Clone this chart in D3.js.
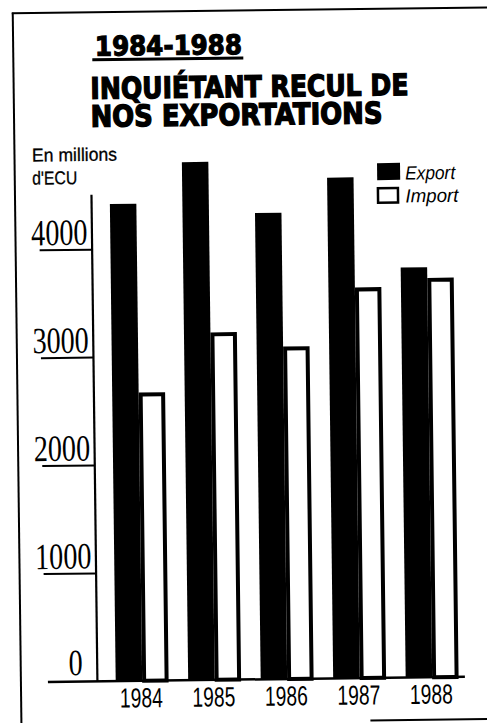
<!DOCTYPE html>
<html><head><meta charset="utf-8">
<script src="https://cdn.jsdelivr.net/npm/d3@7"></script>
<style>html,body{margin:0;padding:0;background:#fff;} svg{display:block;}</style>
</head><body>
<script>
const years = ["1984", "1985", "1986", "1987", "1988"];
const exportValues = [4420, 4800, 4320, 4640, 3800];
const importValues = [2670, 3220, 3080, 3620, 3700];
const yTicks = [0, 1000, 2000, 3000, 4000];
const seriesNames = ["Export", "Import"];
const titleLines = ["1984-1988", "INQUIÉTANT RECUL DE", "NOS EXPORTATIONS"];
const unitLines = ["En millions", "d'ECU"];

const W = 487, H = 723;
const svg = d3.select("body").append("svg").attr("width", W).attr("height", H);
svg.append("rect").attr("width", W).attr("height", H).attr("fill", "#fff");
const g = svg.append("g").attr("transform", "rotate(-0.7,243,360)");

const x = d3.scaleBand().domain(years).range([102, 464.5]).paddingInner(0.27).paddingOuter(0.135);
const xs = d3.scaleBand().domain(seriesNames).range([0, x.bandwidth()]);
const y = d3.scaleLinear().domain([0, 4000]).range([679.5, 247.8]);

const data = years.map((yr, i) => ({year: yr, Export: exportValues[i], Import: importValues[i]}));

// frame
g.append("line").attr("x1", 17).attr("x2", 17).attr("y1", 10).attr("y2", 740).attr("stroke", "#000").attr("stroke-width", 2);
g.append("line").attr("x1", 16).attr("x2", 500).attr("y1", 10.5).attr("y2", 10.5).attr("stroke", "#000").attr("stroke-width", 2);
g.append("line").attr("x1", 366).attr("x2", 500).attr("y1", 722).attr("y2", 722).attr("stroke", "#000").attr("stroke-width", 2);

// title
const titleFont = "'DejaVu Sans', Lato, sans-serif";
g.append("text").attr("x", 98.8).attr("y", 54).text(titleLines[0])
  .attr("font-family", titleFont).attr("font-weight", 700).attr("font-size", 27)
  .attr("stroke", "#000").attr("stroke-width", 1.2)
  .attr("textLength", 147).attr("lengthAdjust", "spacingAndGlyphs");
g.append("rect").attr("x", 96).attr("y", 56.5).attr("width", 151).attr("height", 3).attr("fill", "#000");
g.append("text").attr("x", 93.8).attr("y", 97).text(titleLines[1])
  .attr("font-family", titleFont).attr("font-weight", 700).attr("font-size", 29.5)
  .attr("stroke", "#000").attr("stroke-width", 1.4)
  .attr("textLength", 318).attr("lengthAdjust", "spacingAndGlyphs");
g.append("text").attr("x", 93.5).attr("y", 125).text(titleLines[2])
  .attr("font-family", titleFont).attr("font-weight", 700).attr("font-size", 29.5)
  .attr("stroke", "#000").attr("stroke-width", 1.4)
  .attr("textLength", 292).attr("lengthAdjust", "spacingAndGlyphs");

// unit
const unitFont = "'Liberation Sans', Arial, sans-serif";
g.append("text").attr("x", 34.5).attr("y", 159).text(unitLines[0])
  .attr("font-family", unitFont).attr("font-size", 18.5)
  .attr("stroke", "#000").attr("stroke-width", 0.3)
  .attr("textLength", 85).attr("lengthAdjust", "spacingAndGlyphs");
g.append("text").attr("x", 34.5).attr("y", 182).text(unitLines[1])
  .attr("font-family", unitFont).attr("font-size", 18.5)
  .attr("stroke", "#000").attr("stroke-width", 0.3)
  .attr("textLength", 45).attr("lengthAdjust", "spacingAndGlyphs");

// bars
const groups = g.selectAll(".grp").data(data).join("g").attr("class", "grp")
  .attr("transform", d => `translate(${x(d.year)},0)`);
groups.append("rect")
  .attr("x", xs("Export")).attr("width", xs.bandwidth())
  .attr("y", d => y(d.Export)).attr("height", d => y(0) - y(d.Export))
  .attr("fill", "#000");
groups.append("rect")
  .attr("x", xs("Import") + 2).attr("width", xs.bandwidth() - 4)
  .attr("y", d => y(d.Import) + 2).attr("height", d => y(0) - y(d.Import) - 2)
  .attr("fill", "#fff").attr("stroke", "#000").attr("stroke-width", 4);

// y axis
const axisX = 93.5;
g.append("line").attr("x1", axisX).attr("x2", axisX).attr("y1", 193).attr("y2", y(0)).attr("stroke", "#000").attr("stroke-width", 2.2);
g.append("line").attr("x1", 44).attr("x2", 461).attr("y1", y(0)).attr("y2", y(0)).attr("stroke", "#000").attr("stroke-width", 2.5);
g.selectAll(".tickline").data(yTicks.filter(v => v > 0)).join("line").attr("class", "tickline")
  .attr("x1", 41).attr("x2", axisX).attr("y1", d => y(d)).attr("y2", d => y(d))
  .attr("stroke", "#000").attr("stroke-width", 2);
g.selectAll(".ylab").data(yTicks).join("text").attr("class", "ylab")
  .attr("transform", d => `translate(${d === 0 ? 79 : 89},${y(d) - (d === 0 ? 6.5 : 5)}) scale(0.76,1)`)
  .attr("text-anchor", "end")
  .attr("font-family", "'Liberation Serif', 'Times New Roman', serif").attr("font-size", 37)
  .text(d => d);

// x labels
g.selectAll(".xlab").data(years).join("text").attr("class", "xlab")
  .attr("transform", d => `translate(${x(d) + x.bandwidth() / 2 - 1},706) scale(0.7,1)`)
  .attr("text-anchor", "middle")
  .attr("font-family", "'Liberation Sans', Arial, sans-serif").attr("font-size", 27.5)
  .text(d => d);

// legend
g.append("rect").attr("x", 379.4).attr("y", 164.8).attr("width", 23).attr("height", 17).attr("fill", "#000");
g.append("rect").attr("x", 380).attr("y", 190).attr("width", 20).attr("height", 14.5)
  .attr("fill", "#fff").attr("stroke", "#000").attr("stroke-width", 2.5);
const legFont = "'Liberation Sans', Arial, sans-serif";
g.append("text").attr("x", 407.4).attr("y", 181.6).text(seriesNames[0])
  .attr("font-family", legFont).attr("font-style", "italic").attr("font-size", 19)
  .attr("textLength", 50).attr("lengthAdjust", "spacingAndGlyphs");
g.append("text").attr("x", 407.4).attr("y", 204.4).text(seriesNames[1])
  .attr("font-family", legFont).attr("font-style", "italic").attr("font-size", 19)
  .attr("textLength", 53).attr("lengthAdjust", "spacingAndGlyphs");
</script>
</body></html>
